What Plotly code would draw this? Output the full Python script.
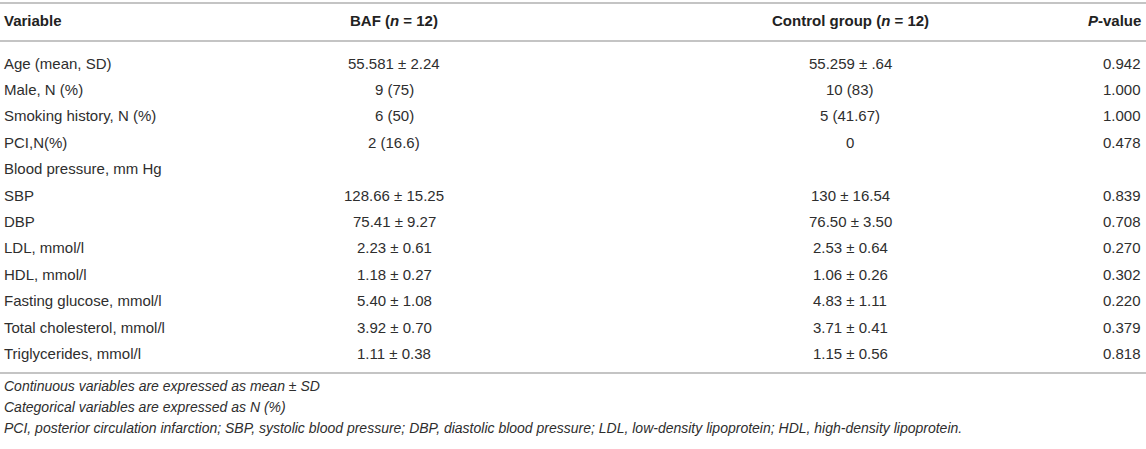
import plotly.graph_objects as go

# table content
variables = [
    "Age (mean, SD)", "Male, N (%)", "Smoking history, N (%)", "PCI,N(%)",
    "Blood pressure, mm Hg", "SBP", "DBP", "LDL, mmol/l", "HDL, mmol/l",
    "Fasting glucose, mmol/l", "Total cholesterol, mmol/l", "Triglycerides, mmol/l",
]
baf = [
    "55.581 ± 2.24", "9 (75)", "6 (50)", "2 (16.6)", "",
    "128.66 ± 15.25", "75.41 ± 9.27", "2.23 ± 0.61", "1.18 ± 0.27",
    "5.40 ± 1.08", "3.92 ± 0.70", "1.11 ± 0.38",
]
control = [
    "55.259 ± .64", "10 (83)", "5 (41.67)", "0", "",
    "130 ± 16.54", "76.50 ± 3.50", "2.53 ± 0.64", "1.06 ± 0.26",
    "4.83 ± 1.11", "3.71 ± 0.41", "1.15 ± 0.56",
]
p_values = [
    "0.942", "1.000", "1.000", "0.478", "",
    "0.839", "0.708", "0.270", "0.302",
    "0.220", "0.379", "0.818",
]
headers = ["Variable", "BAF (<i>n</i> = 12)", "Control group (<i>n</i> = 12)", "<i>P</i>-value"]
footnotes = [
    "Continuous variables are expressed as mean ± SD",
    "Categorical variables are expressed as N (%)",
    "PCI, posterior circulation infarction; SBP, systolic blood pressure; DBP, diastolic blood pressure; "
    "LDL, low-density lipoprotein; HDL, high-density lipoprotein.",
]

W, H = 1146, 449
ROW_TOP = 63      # pixel centre of first body row
ROW_STEP = 26.4   # pixel height of a row

TEXT = "#2e2e2e"
RULE = "#c4c4c4"
FONT = "Liberation Sans, Arial, sans-serif"

# column x positions and anchors
cols = [(2, "left"), (394, "center"), (850, "center"), (1143, "right")]

fig = go.Figure()
# invisible trace so the axes exist
fig.add_trace(go.Scatter(x=[0], y=[0], mode="markers", marker=dict(opacity=0), hoverinfo="skip",
                         showlegend=False))


def row_y(px):
    return (px - ROW_TOP) / ROW_STEP


# header
for (x, anchor), h in zip(cols, headers):
    fig.add_annotation(x=x, y=row_y(20), text=f"<b>{h}</b>", xanchor=anchor, showarrow=False,
                       font=dict(family=FONT, size=15, color="#222222"))

# body
for i in range(len(variables)):
    for (x, anchor), col in zip(cols, [variables, baf, control, p_values]):
        if col[i] == "":
            continue
        fig.add_annotation(x=x, y=i, text=col[i], xanchor=anchor, showarrow=False,
                           font=dict(family=FONT, size=15, color=TEXT))

# footnotes
for j, note in enumerate(footnotes):
    fig.add_annotation(x=2, y=row_y(386 + 21 * j), text=f"<i>{note}</i>", xanchor="left",
                       showarrow=False, font=dict(family=FONT, size=14, color=TEXT))

# horizontal rules
for py in [3, 41, 373]:
    fig.add_shape(type="line", x0=0, x1=W, y0=row_y(py), y1=row_y(py),
                  line=dict(color=RULE, width=2))

fig.update_layout(
    width=W, height=H,
    margin=dict(l=0, r=0, t=0, b=0),
    plot_bgcolor="white", paper_bgcolor="white",
    xaxis=dict(range=[0, W], visible=False, fixedrange=True),
    yaxis=dict(range=[row_y(H), row_y(0)], visible=False, fixedrange=True),
    showlegend=False,
)

# drop the default page margin so the figure sits at the window's corner
fig.write_html("out.html", config={"displayModeBar": False},
               post_script="document.body.style.margin='0';")
